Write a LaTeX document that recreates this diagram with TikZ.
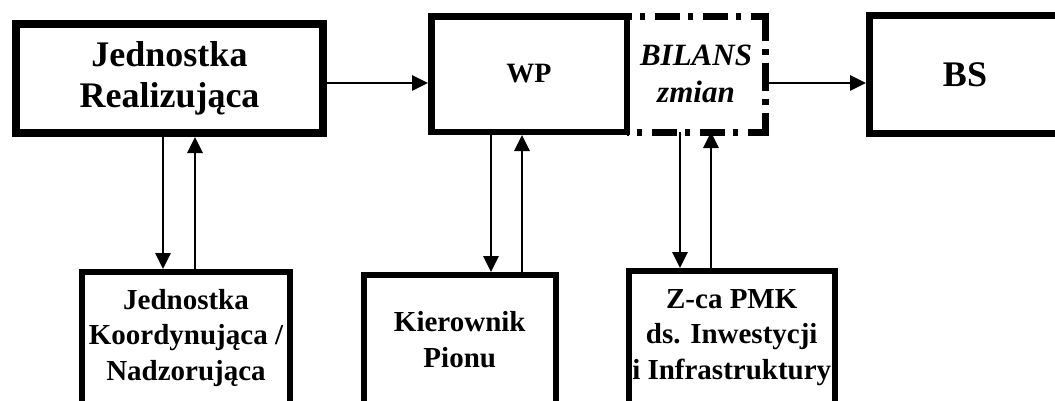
\documentclass[tikz,border=0pt]{standalone}
\usepackage{fontspec}
\setmainfont{Liberation Serif}
\usetikzlibrary{arrows.meta}
\begin{document}
\begin{tikzpicture}[x=1pt,y=-1pt,
  box/.style={draw, rectangle, align=center, inner sep=0pt},
  bigfont/.style={font=\bfseries\fontsize{36pt}{41pt}\selectfont},
  smallfont/.style={font=\bfseries\fontsize{29pt}{35.5pt}\selectfont},
  arr/.style={line width=2.8pt, -{Triangle[length=16pt,width=15pt]}},
  dline/.style={line width=7pt},
]
\clip (0,0) rectangle (1055,400);
\node[box, bigfont, line width=8pt, minimum width=307pt, minimum height=109pt] (JR) at (169.5,78.5) {Jednostka\\Realizująca};
\node[box, line width=6.5pt, minimum width=195.5pt, minimum height=115.5pt, font=\bfseries\fontsize{28pt}{32pt}\selectfont] (WP) at (529,74) {WP};
\node[rectangle, align=center, inner sep=0pt, outer sep=0pt, minimum width=138pt, minimum height=116pt, font=\bfseries\itshape\fontsize{31pt}{37pt}\selectfont] (BIL) at (696,74) {BILANS\\zmian};
\node[box, bigfont, line width=7pt, minimum width=191pt, minimum height=118pt] (BS) at (965,74.5) {BS};
\node[box, smallfont, line width=6pt, minimum width=208pt, minimum height=132pt] (K1) at (186,338) {Jednostka\\Koordynująca /\\Nadzorująca};
\node[box, smallfont, line width=6pt, minimum width=192.5pt, minimum height=129pt] (K2) at (459.75,339.5) {Kierownik\\Pionu};
\node[box, smallfont, line width=6pt, minimum width=206.5pt, minimum height=133pt] (K3) at (731.75,337.5) {Z-ca PMK\\ds. Inwestycji\\i Infrastruktury};

\draw[dline, dash pattern=on 5pt off 10pt on 25pt off 8pt, dash phase=35pt] (BIL.north west) -- ([xshift=3.5pt]BIL.north east);
\draw[dline, dash pattern=on 28pt off 8pt on 6pt off 8pt] ([yshift=3.5pt]BIL.north east) -- ([yshift=-3.5pt]BIL.south east);
\draw[dline, dash pattern=on 5pt off 10pt on 25pt off 8pt, dash phase=38pt] (BIL.south west) -- ([xshift=3.5pt]BIL.south east);

\coordinate (ay) at (0,83);
\coordinate (d1) at (163,0);
\coordinate (u1) at (195,0);
\coordinate (d2) at (491,0);
\coordinate (u2) at (522,0);
\coordinate (d3) at (680,0);
\coordinate (u3) at (711,0);

\draw[arr] (JR.east |- ay) -- (WP.west |- ay);
\draw[arr] (BIL.east |- ay) -- (BS.west |- ay);
\draw[arr] (JR.south -| d1) -- (K1.north -| d1);
\draw[arr] (K1.north -| u1) -- (JR.south -| u1);
\draw[arr] (WP.south -| d2) -- (K2.north -| d2);
\draw[arr] (K2.north -| u2) -- (WP.south -| u2);
\draw[arr] (BIL.south -| d3) -- (K3.north -| d3);
\draw[arr] (K3.north -| u3) -- (BIL.south -| u3);
\end{tikzpicture}
\end{document}
